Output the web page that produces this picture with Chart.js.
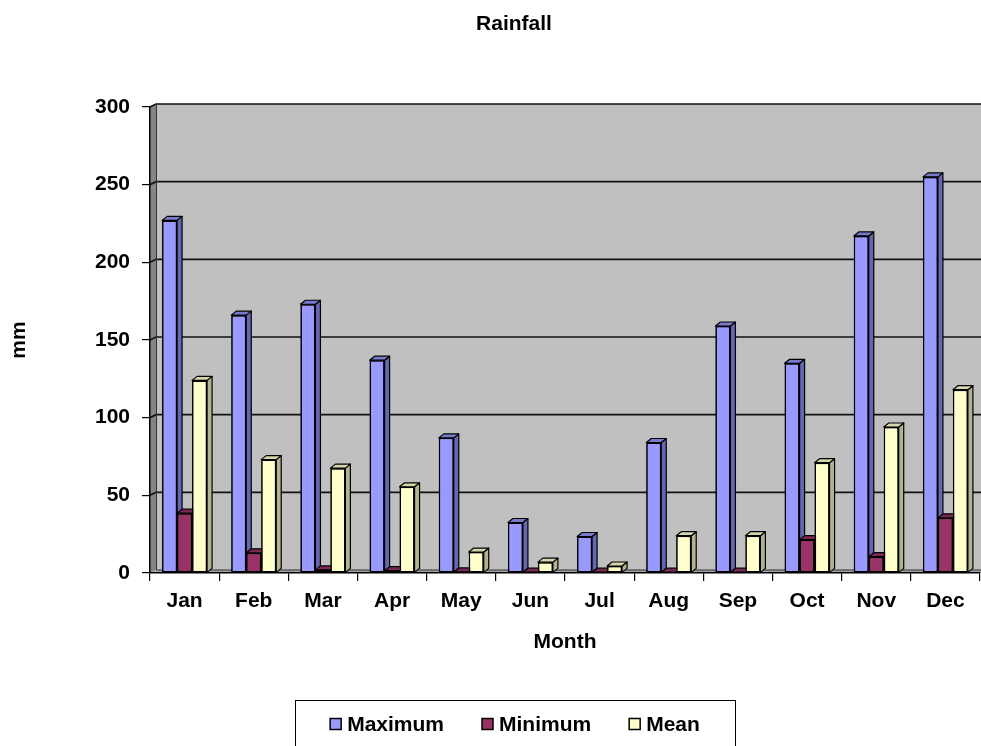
<!DOCTYPE html>
<html>
<head>
<meta charset="utf-8">
<title>Rainfall</title>
<script src="https://cdn.jsdelivr.net/npm/chart.js@4/dist/chart.umd.min.js"></script>
<style>
  html, body { margin: 0; padding: 0; background: #fff; overflow: hidden; }
  #wrap { width: 981px; height: 746px; overflow: hidden; position: relative; }
  #c { display: block; }
</style>
</head>
<body>
<div id="wrap"><canvas id="c" width="1028" height="770"></canvas></div>
<script>
// Monthly rainfall (mm)
const months  = ['Jan', 'Feb', 'Mar', 'Apr', 'May', 'Jun', 'Jul', 'Aug', 'Sep', 'Oct', 'Nov', 'Dec'];
const maximum = [227, 166, 173, 137, 87, 32.5, 23.5, 84, 159, 135, 217, 255];
const minimum = [38.5, 13, 2, 1.5, 0.7, 0.5, 0.5, 0.5, 0.5, 21.5, 10.5, 35.5];
const mean    = [124, 73, 67.5, 55.5, 13.5, 7, 4.5, 24, 24, 71, 94, 118];
const yTicks  = [0, 50, 100, 150, 200, 250, 300];
const chartTitle = 'Rainfall';

const FONT = '"Liberation Sans", Arial, Helvetica, sans-serif';
Chart.defaults.color = '#000';
Chart.defaults.font.family = FONT;

// face colours for the extruded columns: [front, side, top]
const shades = {
  'Maximum': ['#9999ff', '#6666b3', '#7a7acc'],
  'Minimum': ['#993366', '#6b2447', '#7a2952'],
  'Mean':    ['#ffffcc', '#b3b38f', '#d6d6ab']
};

const WALL = { dx: 6, dy: 3 };
const BAR_DEPTH = { dx: 5, dy: 4 };

// back wall, side wall, floor and the gridlines painted on the back wall
const walls = {
  id: 'walls',
  beforeDraw(chart) {
    const { ctx, chartArea: a, scales: { y } } = chart;
    ctx.save();
    ctx.fillStyle = '#c0c0c0';
    ctx.fillRect(a.left + WALL.dx, a.top - WALL.dy, a.right - a.left - WALL.dx + 4, a.bottom - a.top);
    // side wall
    ctx.fillStyle = '#858585';
    ctx.beginPath();
    ctx.moveTo(a.left, a.top);
    ctx.lineTo(a.left + WALL.dx, a.top - WALL.dy);
    ctx.lineTo(a.left + WALL.dx, a.bottom - WALL.dy);
    ctx.lineTo(a.left, a.bottom);
    ctx.closePath();
    ctx.fill();
    // floor
    ctx.fillStyle = '#a3a3a3';
    ctx.beginPath();
    ctx.moveTo(a.left, a.bottom);
    ctx.lineTo(a.left + WALL.dx, a.bottom - WALL.dy);
    ctx.lineTo(a.right + 4, a.bottom - WALL.dy);
    ctx.lineTo(a.right, a.bottom);
    ctx.closePath();
    ctx.fill();
    // gridlines
    ctx.strokeStyle = '#111';
    ctx.lineWidth = 1.7;
    yTicks.forEach(v => {
      if (v === 0) return;
      const py = y.getPixelForValue(v);
      ctx.beginPath();
      ctx.moveTo(a.left, py);
      ctx.lineTo(a.left + WALL.dx, py - WALL.dy);
      ctx.lineTo(a.right + 4, py - WALL.dy);
      ctx.stroke();
    });
    // side wall edge
    ctx.strokeStyle = '#333';
    ctx.lineWidth = 1;
    ctx.beginPath();
    ctx.moveTo(a.left + WALL.dx + 0.5, a.top - WALL.dy);
    ctx.lineTo(a.left + WALL.dx + 0.5, a.bottom - WALL.dy);
    ctx.lineTo(a.right + 4, a.bottom - WALL.dy);
    ctx.stroke();
    ctx.restore();
  }
};

// side and top faces of each column, drawn left to right so neighbours overlap correctly
const columns3d = {
  id: 'columns3d',
  afterDatasetsDraw(chart) {
    const { ctx } = chart;
    const { dx, dy } = BAR_DEPTH;
    ctx.save();
    ctx.lineWidth = 1.2;
    ctx.strokeStyle = '#000';
    ctx.lineJoin = 'round';
    for (let i = 0; i < months.length; i++) {
      chart.data.datasets.forEach((ds, d) => {
        const bar = chart.getDatasetMeta(d).data[i];
        const { x, y, base, width } = bar.getProps(['x', 'y', 'base', 'width'], true);
        const l = x - width / 2, r = x + width / 2;
        const [, side, top] = shades[ds.label];
        ctx.fillStyle = side;
        ctx.beginPath();
        ctx.moveTo(r, y);
        ctx.lineTo(r + dx, y - dy);
        ctx.lineTo(r + dx, base - dy);
        ctx.lineTo(r, base);
        ctx.closePath();
        ctx.fill();
        ctx.stroke();
        ctx.fillStyle = top;
        ctx.beginPath();
        ctx.moveTo(l, y);
        ctx.lineTo(l + dx, y - dy);
        ctx.lineTo(r + dx, y - dy);
        ctx.lineTo(r, y);
        ctx.closePath();
        ctx.fill();
        ctx.stroke();
        bar.draw(ctx);
      });
    }
    ctx.restore();
  }
};

// chart title centred on the whole canvas, and the boxed legend under the axis title
const headerAndLegend = {
  id: 'headerAndLegend',
  afterDraw(chart) {
    const { ctx } = chart;
    const cx = chart.width / 2 + 1;
    ctx.save();
    ctx.fillStyle = '#000';
    ctx.textAlign = 'center';
    ctx.textBaseline = 'middle';
    ctx.font = 'bold 21px ' + FONT;
    ctx.fillText(chartTitle, chart.width / 2, 24);

    const cy = 724;
    const box = 11, gapText = 6, gapItem = 38;
    const items = chart.data.datasets.map(ds => ({
      label: ds.label, color: ds.backgroundColor, w: ctx.measureText(ds.label).width
    }));
    const total = items.reduce((s, it) => s + box + gapText + it.w, 0) + gapItem * (items.length - 1);
    ctx.strokeStyle = '#000';
    ctx.lineWidth = 1;
    ctx.strokeRect(Math.round(cx - 220) + 0.5, 700.5, 440, 80);
    let x = cx - total / 2;
    ctx.textAlign = 'left';
    items.forEach(it => {
      ctx.fillStyle = it.color;
      ctx.fillRect(x, cy - box / 2, box, box);
      ctx.lineWidth = 1.5;
      ctx.strokeRect(x, cy - box / 2, box, box);
      ctx.fillStyle = '#000';
      ctx.fillText(it.label, x + box + gapText, cy + 1);
      x += box + gapText + it.w + gapItem;
    });
    ctx.restore();
  }
};

const mkDataset = (label, data) => ({
  label,
  data,
  backgroundColor: shades[label][0],
  borderColor: '#000',
  borderWidth: 1.5,
  borderSkipped: false,
  categoryPercentage: 0.65,
  barPercentage: 1.0
});

new Chart(document.getElementById('c'), {
  type: 'bar',
  data: {
    labels: months,
    datasets: [
      mkDataset('Maximum', maximum),
      mkDataset('Minimum', minimum),
      mkDataset('Mean', mean)
    ]
  },
  options: {
    responsive: false,
    animation: false,
    devicePixelRatio: 1,
    layout: { padding: { left: 0, right: 48, top: 107, bottom: 97 } },
    plugins: {
      legend: { display: false },
      tooltip: { enabled: false },
      title: { display: false }
    },
    scales: {
      x: {
        offset: true,
        grid: { display: true, drawOnChartArea: false, offset: true, color: '#000', tickLength: 8, lineWidth: 1.2 },
        border: { display: true, color: '#000', width: 1.5 },
        ticks: { font: { size: 21, weight: 'bold', family: FONT }, color: '#000', padding: 8, maxRotation: 0 },
        title: {
          display: true, text: 'Month',
          font: { size: 21, weight: 'bold', family: FONT }, color: '#000',
          padding: { top: 0, bottom: 18 }
        },
        afterFit(scale) { scale.height = 100; }
      },
      y: {
        min: 0,
        max: 300,
        afterBuildTicks(scale) { scale.ticks = yTicks.map(v => ({ value: v })); },
        grid: { display: true, drawOnChartArea: false, color: '#000', tickLength: 8, lineWidth: 1.2 },
        border: { display: true, color: '#000', width: 1.5 },
        ticks: { font: { size: 21, weight: 'bold', family: FONT }, color: '#000', padding: 12 },
        title: {
          display: true, text: 'mm',
          font: { size: 21, weight: 'bold', family: FONT }, color: '#000',
          padding: { top: 7, bottom: 0 }
        },
        afterFit(scale) { scale.width = 150; }
      }
    }
  },
  plugins: [walls, columns3d, headerAndLegend]
});
</script>
</body>
</html>
